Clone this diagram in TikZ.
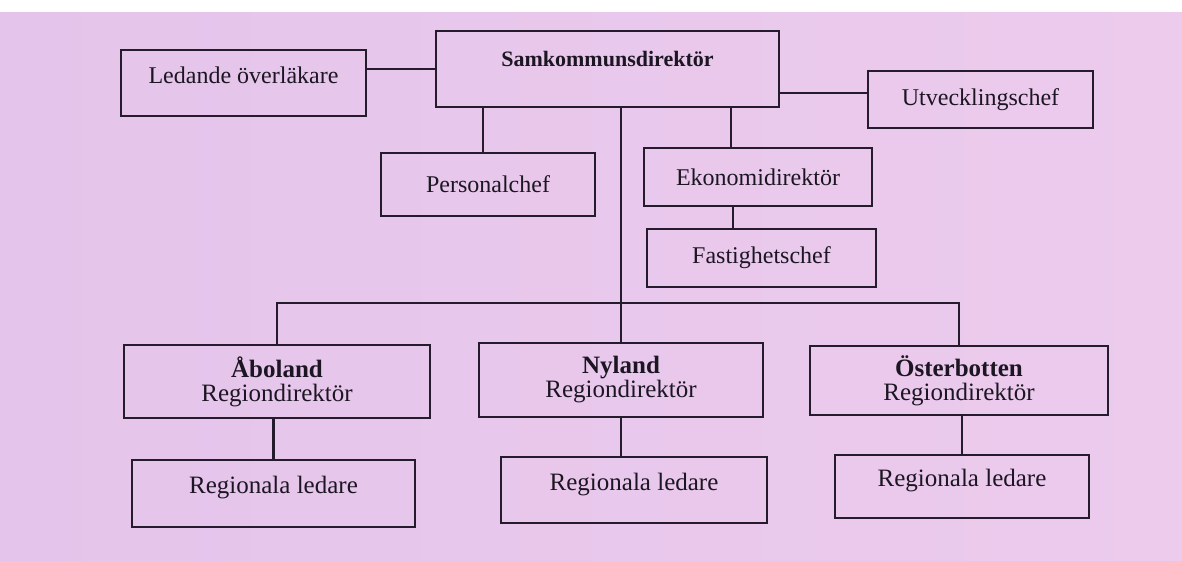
\documentclass[tikz,border=0pt]{standalone}
\usepackage{fontspec}
\setmainfont{Liberation Serif}
\definecolor{bgc}{RGB}{236,203,237}
\definecolor{bgl}{RGB}{228,196,234}
\definecolor{linec}{RGB}{36,28,44}
\definecolor{textc}{RGB}{28,22,34}
\begin{document}
\begin{tikzpicture}[x=1pt,y=-1pt,
  box/.style={draw=linec, line width=2.6pt, inner sep=0pt, text=textc, align=center,
    font=\fontsize{24}{24}\selectfont},
  boxlow/.style={box, font=\fontsize{25}{24}\selectfont},
  upper/.style={text height=17pt, text depth=17pt},
  conn/.style={draw=linec, line width=2.6pt}]
\useasboundingbox (0,0) rectangle (1182,560);
\fill[white] (-5,-5) rectangle (1187,565);
\shade[left color=bgl, right color=bgc] (-5,12) rectangle (1187,565);

% top level
\node[box, minimum width=343pt, minimum height=76pt, text height=15pt, text depth=20pt,
  font=\fontsize{22}{22}\selectfont\bfseries] (sam) at (607.5,69) {Samkommunsdirektör};
\node[box, upper, minimum width=245pt, minimum height=66pt] (led) at (243.5,83) {Ledande överläkare};
\node[box, minimum width=225pt, minimum height=57pt] (utv) at (980.5,99.5) {Utvecklingschef};
\node[box, minimum width=214pt, minimum height=63pt] (pers) at (488,184.5) {Personalchef};
\node[box, minimum width=228pt, minimum height=58pt] (eko) at (758,177) {Ekonomidirektör};
\node[box, minimum width=229pt, minimum height=58pt] (fast) at (761.5,258) {Fastighetschef};

% regions
\node[boxlow, minimum width=306pt, minimum height=73pt] (abo) at (277,381.5) {\textbf{Åboland}\\Regiondirektör};
\node[boxlow, minimum width=284pt, minimum height=74pt] (nyl) at (621,380) {\textbf{Nyland}\\Regiondirektör};
\node[boxlow, minimum width=298pt, minimum height=69pt] (ost) at (959,380.5) {\textbf{Österbotten}\\Regiondirektör};

% regional leaders
\node[boxlow, upper, minimum width=283pt, minimum height=67pt] (rl1) at (273.5,493.5) {Regionala ledare};
\node[boxlow, upper, minimum width=266pt, minimum height=66pt] (rl2) at (634,490) {Regionala ledare};
\node[boxlow, upper, minimum width=254pt, minimum height=63pt] (rl3) at (962,486.5) {Regionala ledare};

\coordinate (bar) at (621,303);

% connectors
\draw[conn] (sam.west) -- (sam.west -| led.east);
\draw[conn] ([yshift=6.5pt]utv.west) -- ([yshift=6.5pt]utv.west -| sam.east);
\draw[conn] ([xshift=-5pt]pers.north) -- ([xshift=-5pt]pers.north |- sam.south);
\draw[conn] ([xshift=-27pt]eko.north) -- ([xshift=-27pt]eko.north |- sam.south);
\draw[conn] ([xshift=-28.5pt]fast.north) -- ([xshift=-28.5pt]fast.north |- eko.south);
\draw[conn] (nyl.north) -- (nyl.north |- sam.south);
\draw[conn] (abo.north) |- (bar) -| (ost.north);
\draw[conn] (rl1.north) -- (rl1.north |- abo.south);
\draw[conn] (nyl.south) -- (nyl.south |- rl2.north);
\draw[conn] (rl3.north) -- (rl3.north |- ost.south);
\end{tikzpicture}
\end{document}
